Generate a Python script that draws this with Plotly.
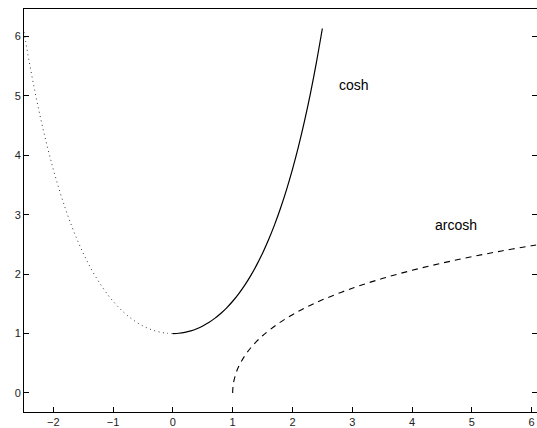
import plotly.graph_objects as go

# cosh samples (x >= 0, solid) and mirrored (x <= 0, dotted)
x_pos = [0.0, 0.1, 0.2, 0.3, 0.4, 0.5, 0.6, 0.7, 0.8, 0.9, 1.0, 1.1, 1.2, 1.3,
         1.4, 1.5, 1.6, 1.7, 1.8, 1.9, 2.0, 2.1, 2.2, 2.3, 2.4, 2.5]
cosh_vals = [1.0000, 1.0050, 1.0201, 1.0453, 1.0811, 1.1276, 1.1855, 1.2552,
             1.3374, 1.4331, 1.5431, 1.6685, 1.8107, 1.9709, 2.1509, 2.3524,
             2.5775, 2.8283, 3.1075, 3.4177, 3.7622, 4.1443, 4.5679, 5.0372,
             5.5569, 6.1323]
x_neg = [-0.0, -0.1, -0.2, -0.3, -0.4, -0.5, -0.6, -0.7, -0.8, -0.9, -1.0, -1.1,
         -1.2, -1.3, -1.4, -1.5, -1.6, -1.7, -1.8, -1.9, -2.0, -2.1, -2.2, -2.3,
         -2.4, -2.5]

# arcosh samples
x_acosh = [1.0, 1.002, 1.01, 1.02, 1.05, 1.1, 1.2, 1.3, 1.4, 1.5, 1.75, 2.0,
           2.25, 2.5, 3.0, 3.5, 4.0, 4.5, 5.0, 5.5, 6.0, 6.1323]
acosh_vals = [0.0, 0.06324, 0.14130, 0.19967, 0.31492, 0.44357, 0.62236,
              0.75643, 0.86701, 0.96242, 1.15881, 1.31696, 1.45057, 1.56680,
              1.76275, 1.92485, 2.06344, 2.18464, 2.29243, 2.38953, 2.47789,
              2.5]

labels = ["cosh", "arcosh"]
label_x = [2.74, 4.35]
label_y = [5.18, 2.83]

x_ticks = [-2, -1, 0, 1, 2, 3, 4, 5, 6]
y_ticks = [0, 1, 2, 3, 4, 5, 6]
y_range = [-0.32, 6.46]

fig = go.Figure()
fig.add_trace(go.Scatter(x=x_neg, y=cosh_vals, mode="lines",
                         line=dict(color="#333333", width=1, dash="1px,3.5px", shape="spline"),
                         showlegend=False))
fig.add_trace(go.Scatter(x=x_pos, y=cosh_vals, mode="lines",
                         line=dict(color="black", width=1.2, shape="spline"),
                         showlegend=False))
fig.add_trace(go.Scatter(x=x_acosh, y=acosh_vals, mode="lines",
                         line=dict(color="black", width=1.1, dash="6px,5px", shape="spline"),
                         showlegend=False))
# invisible trace so the right-hand tick axis is rendered
fig.add_trace(go.Scatter(x=x_acosh, y=acosh_vals, yaxis="y2", mode="lines",
                         line=dict(color="rgba(0,0,0,0)", width=0),
                         hoverinfo="skip", showlegend=False))

for t, lx, ly in zip(labels, label_x, label_y):
    fig.add_annotation(x=lx, y=ly, text=t, showarrow=False, xanchor="left",
                       yanchor="middle",
                       font=dict(family="Liberation Sans, Arial, sans-serif", size=14, color="black"))

tick_font = dict(family="Liberation Sans, Arial, sans-serif", size=11, color="#222222")

fig.update_layout(
    width=537, height=428,
    margin=dict(l=24, r=0, t=9, b=13),
    paper_bgcolor="white", plot_bgcolor="white",
    xaxis=dict(range=[-2.49, 6.09], tickvals=x_ticks,
               ticktext=[str(v).replace("-", "\u2212") for v in x_ticks],
               showgrid=False, zeroline=False, showline=True, linecolor="black",
               linewidth=1, mirror=True, ticks="inside", ticklen=5,
               tickcolor="black", tickwidth=1, tickfont=tick_font),
    yaxis=dict(range=y_range, tickvals=y_ticks,
               ticktext=[str(v) for v in y_ticks],
               showgrid=False, zeroline=False, showline=True, linecolor="black",
               linewidth=1, mirror=False, ticks="inside", ticklen=5,
               tickcolor="black", tickwidth=1, tickfont=tick_font),
    yaxis2=dict(range=y_range, tickvals=y_ticks, overlaying="y", side="right",
                showticklabels=False, showgrid=False, zeroline=False,
                showline=False, ticks="inside", ticklen=5,
                tickcolor="black", tickwidth=1),
)

fig.write_html("out.html")
